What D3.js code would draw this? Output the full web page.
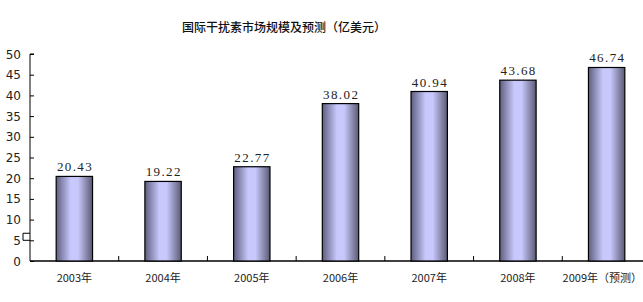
<!DOCTYPE html>
<html lang="zh">
<head>
  <meta charset="UTF-8">
  <title>国际干扰素市场规模及预测</title>
  <script src="https://d3js.org/d3.v7.min.js"></script>
  <style>
    body { margin: 0; background: #fff; }
    svg { display: block; }
  </style>
</head>
<body>
  <svg width="643" height="302"></svg>
  <script>
    const years = ["2003年", "2004年", "2005年", "2006年", "2007年", "2008年", "2009年（预测）"];
    const values = [20.43, 19.22, 22.77, 38.02, 40.94, 43.68, 46.74];
    const yTicks = [0, 5, 10, 15, 20, 25, 30, 35, 40, 45, 50];

    const svg = d3.select("svg");
    const plotLeft = 30, plotRight = 651, plotTop = 54, plotBottom = 261;

    const x = d3.scaleBand().domain(years).range([plotLeft, plotRight]).paddingInner(0).paddingOuter(0);
    const y = d3.scaleLinear().domain([0, 50]).range([plotBottom, plotTop]);

    // bar gradient: dark edges, light centre
    const grad = svg.append("defs").append("linearGradient")
      .attr("id", "barGrad").attr("x1", "0%").attr("x2", "100%");
    grad.append("stop").attr("offset", "0%").attr("stop-color", "#5e5e80");
    grad.append("stop").attr("offset", "40%").attr("stop-color", "#c8c8fc");
    grad.append("stop").attr("offset", "60%").attr("stop-color", "#c8c8fc");
    grad.append("stop").attr("offset", "100%").attr("stop-color", "#5a5a74");

    // title
    svg.append("text")
      .attr("x", 284).attr("y", 32)
      .attr("text-anchor", "middle")
      .attr("font-family", "'Noto Sans CJK SC', sans-serif")
      .attr("font-size", "12px")
      .attr("font-weight", 500)
      .attr("fill", "#111")
      .text("国际干扰素市场规模及预测（亿美元）");

    // y axis
    const yAxis = d3.axisRight(y).tickValues(yTicks).tickSize(4).tickFormat("");
    const gy = svg.append("g").attr("transform", `translate(${plotLeft},0)`).call(yAxis);
    gy.select(".domain").attr("stroke", "#000").attr("d", `M4,${plotTop}H0V${plotBottom}`);
    gy.selectAll(".tick line").attr("stroke", "#000");

    svg.append("g").selectAll("text").data(yTicks).join("text")
      .attr("x", 21).attr("y", d => y(d) + 4.5)
      .attr("text-anchor", "end")
      .attr("font-family", "'DejaVu Sans', sans-serif")
      .attr("font-size", "12px")
      .attr("fill", "#222")
      .text(d => d);

    // small marker box near 5
    svg.append("path")
      .attr("d", `M${plotLeft},${y(6.7)}H${plotLeft - 7}V${y(5)}H${plotLeft}`)
      .attr("fill", "none").attr("stroke", "#000");

    // x axis
    const xAxis = d3.axisBottom(x).tickSize(0).tickFormat("");
    const gx = svg.append("g").attr("transform", `translate(0,${plotBottom})`).call(xAxis);
    gx.select(".domain").attr("stroke", "#000").attr("stroke-width", 1.3).attr("d", `M${plotLeft},0H${plotRight}`);
    svg.append("g").selectAll("line").data(years.slice(1)).join("line")
      .attr("x1", d => x(d)).attr("x2", d => x(d))
      .attr("y1", plotBottom).attr("y2", plotBottom - 5)
      .attr("stroke", "#000");

    const last = years[years.length - 1];
    svg.append("g").selectAll("text").data(years).join("text")
      .attr("x", d => d === last ? 642 : x(d) + x.bandwidth() / 2)
      .attr("y", 282)
      .attr("text-anchor", d => d === last ? "end" : "middle")
      .attr("font-family", "'Noto Sans CJK SC', sans-serif")
      .attr("font-size", "11px")
      .attr("fill", "#222")
      .text(d => d);

    // bars
    const bw = x.bandwidth() * 0.41;
    svg.append("g").selectAll("rect").data(values).join("rect")
      .attr("x", (d, i) => x(years[i]) + x.bandwidth() / 2 - bw / 2)
      .attr("y", d => y(d))
      .attr("width", bw)
      .attr("height", d => plotBottom - y(d))
      .attr("fill", "url(#barGrad)")
      .attr("stroke", "#000")
      .attr("stroke-width", 1.2);

    // value labels
    svg.append("g").selectAll("text").data(values).join("text")
      .attr("x", (d, i) => x(years[i]) + x.bandwidth() / 2 + 0.7)
      .attr("y", d => y(d) - 5)
      .attr("text-anchor", "middle")
      .attr("font-family", "'Liberation Serif', serif")
      .attr("font-size", "13px")
      .attr("letter-spacing", "1.4px")
      .attr("fill", "#222")
      .text(d => d.toFixed(2));
  </script>
</body>
</html>
